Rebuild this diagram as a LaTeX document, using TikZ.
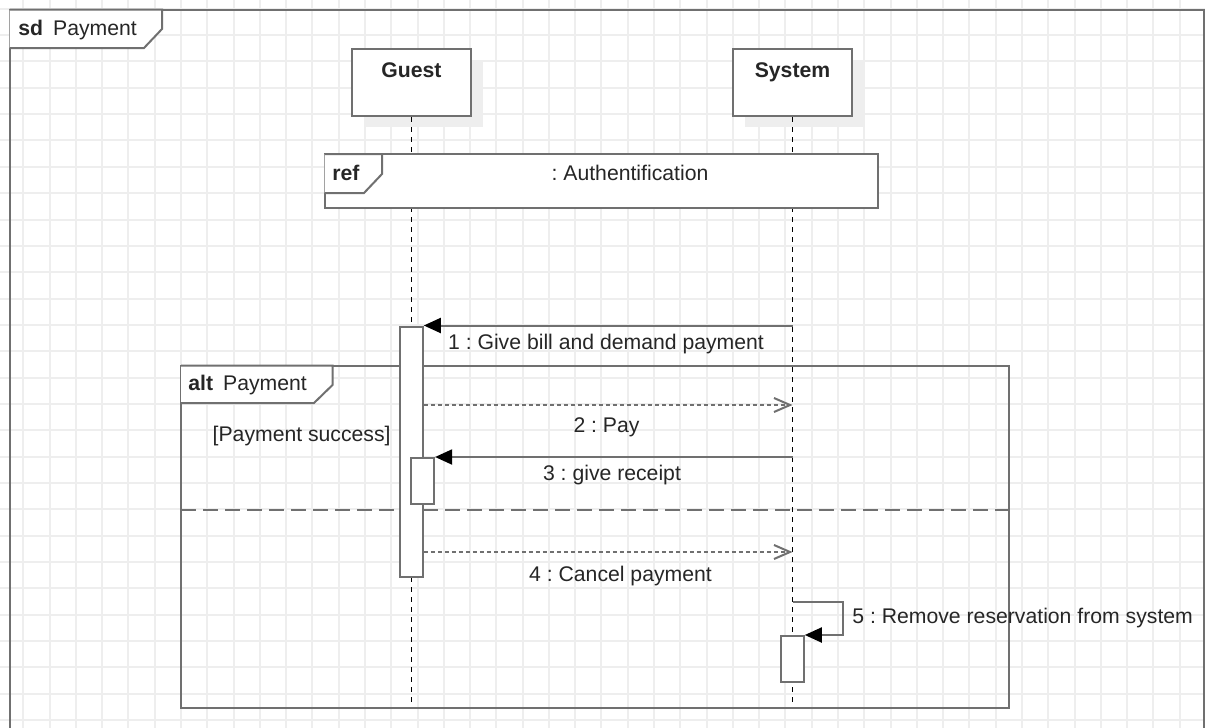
\documentclass[tikz,border=0pt]{standalone}
\usepackage{fontspec}
\setmainfont{Liberation Sans}
\usetikzlibrary{arrows.meta}
\frenchspacing
\definecolor{gridc}{RGB}{238,238,238}
\definecolor{framec}{RGB}{112,112,112}
\definecolor{textc}{RGB}{38,38,38}
\definecolor{shadowc}{RGB}{238,238,238}
\tikzset{
  gridline/.style={draw=gridc, line width=1pt},
  frame/.style={draw=framec, line width=1pt},
  tagshape/.style={draw=framec, fill=white, line width=1pt},
  head/.style={draw=framec, fill=white, line width=1pt, inner sep=0pt,
    minimum width=59.5pt, minimum height=33.5pt},
  headshadow/.style={fill=shadowc, draw=none, inner sep=0pt,
    minimum width=59.5pt, minimum height=33.5pt},
  lifeline/.style={draw=black, line width=0.7pt, dash pattern=on 2.5pt off 2.5pt},
  actbar/.style={draw=framec, fill=white, line width=1pt, inner sep=0pt,
    minimum width=11.5pt},
  msg/.style={draw=framec, line width=1pt,
    -{Triangle[length=8.5pt,width=7.5pt,color=black]}},
  reply/.style={draw=framec, line width=1pt, dash pattern=on 2pt off 1.5pt,
    -{Straight Barb[length=8pt,width=7pt,color=framec]}},
  separator/.style={draw=framec, line width=1pt, dash pattern=on 7.5pt off 3.5pt},
  lbl/.style={text=textc, inner sep=0pt, anchor=base,
    font=\fontsize{10.6pt}{12.7pt}\selectfont},
  bold/.style={lbl, font=\fontsize{10.6pt}{12.7pt}\selectfont\bfseries},
}
\begin{document}
\begin{tikzpicture}[x=0.5pt,y=-0.5pt]
  \useasboundingbox (0,0) rectangle (1205,728);
  \clip (0,0) rectangle (1205,728);
  \fill[white] (0,0) rectangle (1205,728);

  % background grid
  \foreach \i in {0,...,44} \draw[gridline] (23.3+\i*26.28,0) -- ++(0,728);
  \foreach \j in {0,...,27} \draw[gridline] (0,8.7+\j*26.35) -- ++(1205,0);

  % outer diagram frame
  \draw[frame] (9.5,740) -- (9.5,9.5) -- (1204,9.5) -- (1204,740);

  % combined fragment "alt"
  \draw[frame] (181,365.5) rectangle (1008.5,708);
  \draw[separator] (181,510) -- (1008.5,510);

  % lifeline heads with drop shadows
  \node[headshadow] (guestsh) at (423,93.5) {};
  \node[headshadow] (systemsh) at (804,93.5) {};
  \node[head] (guest) at (411.5,82.5) {};
  \node[head] (system) at (792.5,82.5) {};
  \node[bold] (guestname) at (411.5,77) {Guest};
  \node[bold] (systemname) at (792.5,77) {System};

  % lifelines
  \coordinate (guestend) at (411.5,705);
  \coordinate (systemend) at (792.5,705);
  \draw[lifeline] (guest.south) -- (guestend);
  \draw[lifeline] (system.south) -- (systemend);

  % interaction use
  \draw[frame, fill=white] (324.5,154) rectangle (878,208);
  \draw[tagshape] (324.5,154) -- (382,154) -- (382,174) -- (364,193) -- (324.5,193);
  \node[bold, anchor=base west] (reftag) at (332,180) {ref};
  \node[lbl] (reftext) at (630,180) {: Authentification};

  % activation bars
  \node[actbar, anchor=north, minimum height=125.25pt] (gact) at (411.3,325.5) {};
  \node[actbar, anchor=north, minimum height=23pt] (nact) at (422.6,457) {};
  \node[actbar, anchor=north, minimum height=23pt] (sact) at (792.3,635) {};

  % messages
  \coordinate (y2) at (0,405);
  \coordinate (y4) at (0,552);
  \coordinate (y5) at (0,602);
  \draw[msg] (gact.north -| system.south) -- (gact.north east);
  \draw[reply] (gact.east |- y2) -- (system.south |- y2);
  \draw[msg] (nact.north -| system.south) -- (nact.north east);
  \draw[reply] (gact.east |- y4) -- (system.south |- y4);
  \draw[msg] (system.south |- y5) -- ++(50,0) |- (sact.north east);

  % message labels
  \node[lbl] (m1) at (606,349) {1 : Give bill and demand payment};
  \node[lbl] (m2) at (606.5,432) {2 : Pay};
  \node[lbl] (m3) at (612,480) {3 : give receipt};
  \node[lbl] (m4) at (620.5,581) {4 : Cancel payment};
  \node[lbl, anchor=base west] (m5) at (852,623) {5 : Remove reservation from system};
  \node[lbl, anchor=base east] (guard) at (391,441) {[Payment success]};

  % fragment tags
  \draw[tagshape] (181,365.5) -- (332.5,365.5) -- (332.5,385) -- (314,403) -- (181,403);
  \node[lbl, anchor=base west] (alttag) at (188,390) {\textbf{alt}\hspace{5pt}Payment};
  \draw[tagshape] (9.5,9.5) -- (162,9.5) -- (162,29) -- (144,48) -- (9.5,48);
  \node[lbl, anchor=base west] (sdtag) at (18,35) {\textbf{sd}\hspace{5pt}Payment};
\end{tikzpicture}
\end{document}
